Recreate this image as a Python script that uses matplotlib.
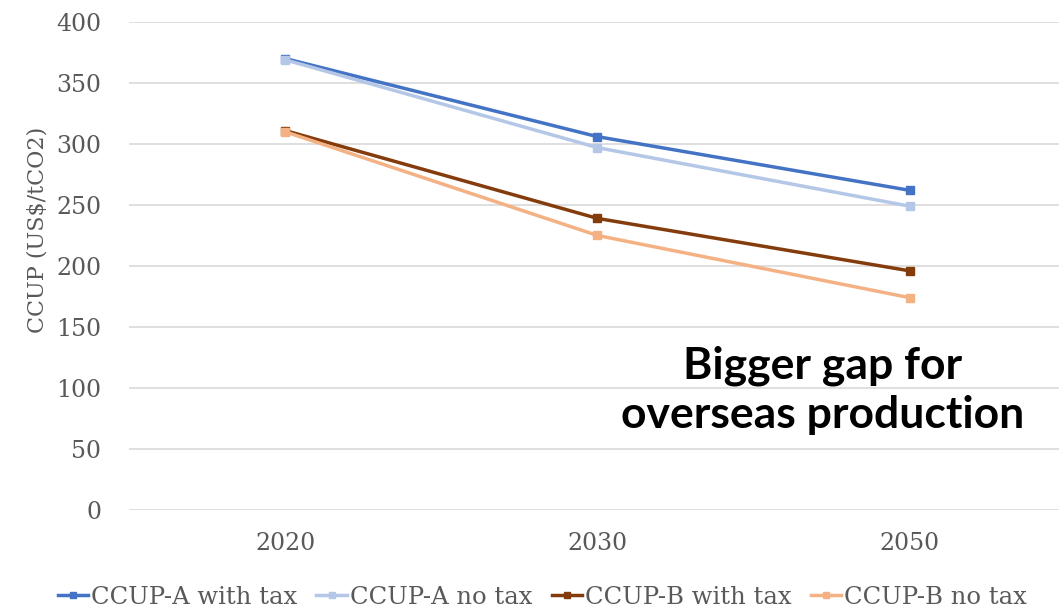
import matplotlib.pyplot as plt

# data
years = ["2020", "2030", "2050"]
a_with_tax = [370, 306, 262]
a_no_tax = [369, 297, 249]
b_with_tax = [311, 239, 196]
b_no_tax = [310, 225, 174]

series = [
    ("CCUP-A with tax", a_with_tax, "#4472C4"),
    ("CCUP-A no tax", a_no_tax, "#B4C7E7"),
    ("CCUP-B with tax", b_with_tax, "#843C0C"),
    ("CCUP-B no tax", b_no_tax, "#F4B183"),
]

grey = "#595959"
serif = ["DejaVu Serif"]

fig = plt.figure(figsize=(10.59, 6.07), dpi=100)
ax = fig.add_axes([0.1218, 0.1598, 0.8848, 0.804])

x = range(len(years))
for label, vals, color in series:
    ax.plot(x, vals, color=color, linewidth=2.5, marker="s", markersize=6,
            label=label)

ax.set_xlim(-0.5, 2.5)
ax.set_ylim(0, 400)
ax.set_yticks(range(0, 401, 50))
ax.set_xticks(list(x))
ax.set_xticklabels(years)
ax.grid(axis="y", color="#D9D9D9", linewidth=1.2)
ax.set_axisbelow(True)
for s in ax.spines.values():
    s.set_visible(False)
ax.tick_params(length=0, labelsize=17, labelcolor=grey)
ax.tick_params(axis="y", pad=20)
ax.tick_params(axis="x", pad=16)
for t in ax.get_xticklabels() + ax.get_yticklabels():
    t.set_family(serif)

ax.set_ylabel("CCUP (US$/tCO2)", fontsize=16, color=grey, family=serif)
ax.yaxis.set_label_coords(-0.086, 0.574)

fig.text(0.777, 0.357, "Bigger gap for\noverseas production", ha="center",
         va="center", fontsize=32, fontweight="bold", family="Lato",
         linespacing=1.25)

leg = fig.legend(loc="center", bbox_to_anchor=(0.512, 0.016), ncol=4,
                 frameon=False, prop={"family": serif, "size": 17.5},
                 handlelength=1.25, handletextpad=0.12, columnspacing=0.8,
                 markerscale=0.8)
for t in leg.get_texts():
    t.set_color(grey)

fig.savefig("out.png", dpi=100)
